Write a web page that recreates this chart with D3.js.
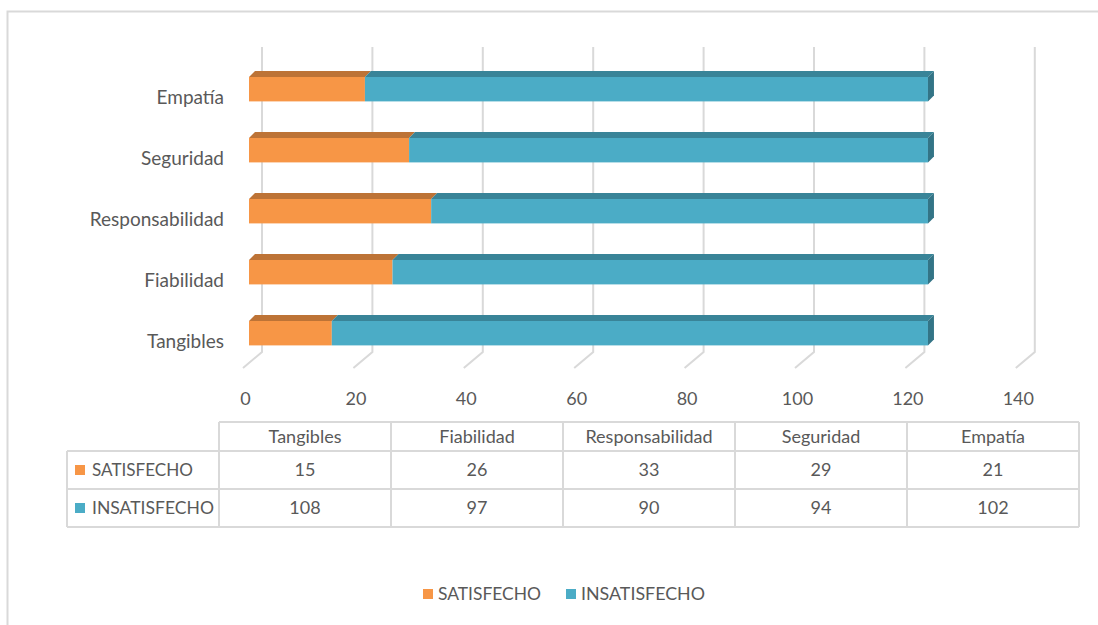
<!DOCTYPE html>
<html>
<head>
<meta charset="utf-8">
<script src="https://cdn.jsdelivr.net/npm/d3@7"></script>
<style>
  html, body { margin: 0; padding: 0; background: #fff; }
  svg { display: block; font-family: Lato, "Open Sans", sans-serif; }
</style>
</head>
<body>
<svg id="chart" width="1098" height="625"></svg>
<script>
const categories = ["Tangibles", "Fiabilidad", "Responsabilidad", "Seguridad", "Empatía"];
const seriesNames = ["SATISFECHO", "INSATISFECHO"];
const satisfecho = [15, 26, 33, 29, 21];
const insatisfecho = [108, 97, 90, 94, 102];
const tickValues = [0, 20, 40, 60, 80, 100, 120, 140];
const colors = ["#F79646", "#4BACC6"];

const svg = d3.select("#chart");
const textColor = "#595959";
const gridColor = "#d9d9d9";

// outer chart border (top & left visible)
svg.append("path")
  .attr("d", "M7.5,1000 L7.5,11.5 L1200,11.5")
  .attr("fill", "none").attr("stroke", gridColor).attr("stroke-width", 2);

const x = d3.scaleLinear().domain([0, 140]).range([249, 249 + 140 * 5.52]);
const y = d3.scaleBand().domain(categories.slice().reverse())
  .range([58.7, 58.7 + 305]).paddingInner(0.6).paddingOuter(0.3);

const backDx = 13, floorTop = 47, floorY = 352, depthDx = -19, depthDy = 16;

// back wall gridlines + floor diagonals
const grid = svg.append("g");
tickValues.forEach(v => {
  const xb = x(v) + backDx;
  grid.append("path")
    .attr("d", `M${xb},${floorTop} L${xb},${floorY} L${xb + depthDx},${floorY + depthDy}`)
    .attr("fill", "none").attr("stroke", gridColor).attr("stroke-width", 2);
});

// tick labels
const axisG = svg.append("g").attr("transform", `translate(0,${405})`);
const axisScale = x.copy().range(x.range().map(r => r + backDx + depthDx + 2));
const axis = d3.axisBottom(axisScale).tickValues(tickValues).tickSize(0).tickPadding(0);
axisG.call(axis);
axisG.select(".domain").remove();
axisG.selectAll("text").attr("fill", textColor).attr("font-size", 18)
  .attr("font-family", "Lato, sans-serif").attr("dy", 0).attr("y", 0);

// bars
const D = 6;
const stacked = categories.map((c, i) => {
  const vals = [satisfecho[i], insatisfecho[i]];
  let acc = 0;
  return vals.map((v, s) => { const seg = { c, s, x0: acc, x1: acc + v }; acc += v; return seg; });
});
const barsG = svg.append("g");
stacked.forEach(segs => {
  segs.forEach(seg => {
    const col = d3.color(colors[seg.s]);
    const x0 = x(seg.x0), x1 = x(seg.x1);
    const yt = y(seg.c), h = y.bandwidth();
    // top face
    barsG.append("path")
      .attr("d", `M${x0},${yt} L${x0 + D},${yt - D} L${x1 + D},${yt - D} L${x1},${yt} Z`)
      .attr("fill", col.darker(0.75));
    // front face
    barsG.append("rect").attr("x", x0).attr("y", yt).attr("width", x1 - x0).attr("height", h)
      .attr("fill", col);
    if (seg.s === segs.length - 1) {
      barsG.append("path")
        .attr("d", `M${x1},${yt} L${x1 + D},${yt - D} L${x1 + D},${yt + h - D} L${x1},${yt + h} Z`)
        .attr("fill", col.darker(1.1));
    }
  });
});

// category labels
const catAxis = d3.axisLeft(y).tickSize(0).tickPadding(0);
const catG = svg.append("g").attr("transform", "translate(224,5)").call(catAxis);
catG.select(".domain").remove();
catG.selectAll("text").attr("fill", textColor).attr("font-size", 19)
  .attr("font-family", "Lato, sans-serif").attr("dy", "0.5em");

// data table
const tLeft = 67, tCol0 = 219, colW = 172, nCols = categories.length;
const rowsY = [422, 451, 489, 527];
const tRight = tCol0 + colW * nCols;
const tbl = svg.append("g").attr("stroke", gridColor).attr("stroke-width", 2).attr("fill", "none");
tbl.append("line").attr("x1", tCol0).attr("x2", tRight).attr("y1", rowsY[0]).attr("y2", rowsY[0]);
[1, 2, 3].forEach(r => tbl.append("line").attr("x1", tLeft).attr("x2", tRight).attr("y1", rowsY[r]).attr("y2", rowsY[r]));
tbl.append("line").attr("x1", tLeft).attr("x2", tLeft).attr("y1", rowsY[1]).attr("y2", rowsY[3]);
for (let i = 0; i <= nCols; i++) {
  const xx = tCol0 + colW * i;
  tbl.append("line").attr("x1", xx).attr("x2", xx).attr("y1", rowsY[0]).attr("y2", rowsY[3]);
}
const tt = svg.append("g").attr("fill", textColor).attr("font-size", 18).attr("font-family", "Lato, sans-serif");
categories.forEach((c, i) => {
  const cx = tCol0 + colW * i + colW / 2;
  tt.append("text").attr("x", cx).attr("y", (rowsY[0] + rowsY[1]) / 2).attr("dy", "0.36em")
    .attr("text-anchor", "middle").text(c);
  tt.append("text").attr("x", cx).attr("y", (rowsY[1] + rowsY[2]) / 2).attr("dy", "0.36em")
    .attr("text-anchor", "middle").text(satisfecho[i]);
  tt.append("text").attr("x", cx).attr("y", (rowsY[2] + rowsY[3]) / 2).attr("dy", "0.36em")
    .attr("text-anchor", "middle").text(insatisfecho[i]);
});
const seriesLen = [101, 122];
seriesNames.forEach((n, s) => {
  const cy = (rowsY[s + 1] + rowsY[s + 2]) / 2;
  svg.append("rect").attr("x", 75).attr("y", cy - 5).attr("width", 10).attr("height", 10).attr("fill", colors[s]);
  tt.append("text").attr("x", 92).attr("y", cy).attr("dy", "0.36em")
    .attr("textLength", seriesLen[s]).attr("lengthAdjust", "spacingAndGlyphs").text(n);
});

// bottom legend
const legX = [423, 566];
seriesNames.forEach((n, s) => {
  svg.append("rect").attr("x", legX[s]).attr("y", 589).attr("width", 10).attr("height", 10).attr("fill", colors[s]);
  svg.append("text").attr("x", legX[s] + 15).attr("y", 594).attr("dy", "0.36em")
    .attr("fill", textColor).attr("font-size", 18).attr("font-family", "Lato, sans-serif")
    .attr("textLength", seriesLen[s] + 2).attr("lengthAdjust", "spacingAndGlyphs").text(n);
});
</script>
</body>
</html>
